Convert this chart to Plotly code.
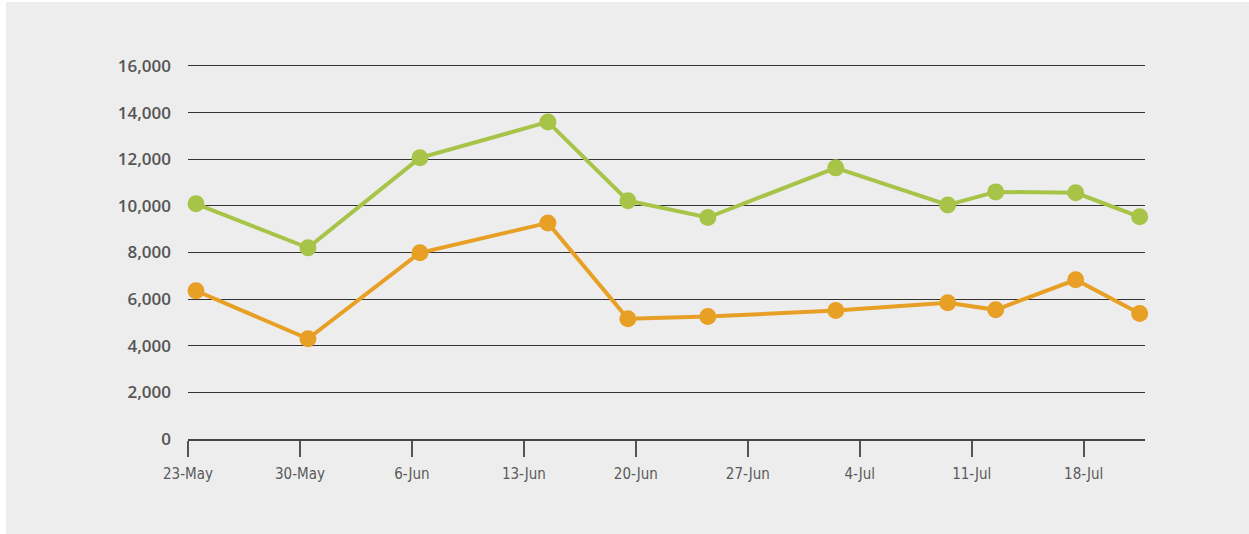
import plotly.graph_objects as go

dates = ["2016-05-23", "2016-05-30", "2016-06-06", "2016-06-14", "2016-06-19",
         "2016-06-24", "2016-07-02", "2016-07-09", "2016-07-12", "2016-07-17",
         "2016-07-21"]
green_values = [10090, 8200, 12060, 13600, 10220, 9500, 11630, 10040, 10600, 10560, 9530]
orange_values = [6360, 4300, 7990, 9270, 5160, 5250, 5510, 5840, 5540, 6830, 5380]

x_tick_start = "2016-05-23"
x_range = ["2016-05-23", "2016-07-21 20:00"]
y_range = [0, 16300]

GREEN = "#a8c448"
ORANGE = "#e7a025"

fig = go.Figure()
for vals, col in [(green_values, GREEN), (orange_values, ORANGE)]:
    fig.add_trace(go.Scatter(
        x=dates, y=vals, mode="lines+markers",
        xperiod=86400000, xperiodalignment="middle",
        line=dict(color=col, width=4),
        marker=dict(color=col, size=17),
        cliponaxis=False, showlegend=False,
    ))

fig.add_shape(type="rect", xref="paper", yref="paper",
              x0=(6 - 188) / 957, x1=1.2, y0=-0.3, y1=(439 - 2) / 380,
              fillcolor="#ededed", line=dict(width=0), layer="below")

fig.update_layout(
    width=1249, height=534, autosize=False,
    margin=dict(l=188, r=104, t=59, b=95),
    paper_bgcolor="white", plot_bgcolor="rgba(0,0,0,0)",
    xaxis=dict(
        type="date", range=x_range, tick0=x_tick_start, dtick=7 * 86400000,
        tickformat="%-d-%b", showgrid=False, zeroline=False,
        showline=True, linecolor="#444", linewidth=1.5,
        ticks="outside", ticklen=16, tickwidth=1.5, tickcolor="#555",
        ticklabelstandoff=4,
        tickfont=dict(family="DejaVu Sans Condensed, Liberation Sans Narrow, sans-serif",
                      size=15, color="#5a5a5a"),
    ),
    yaxis=dict(
        range=y_range, dtick=2000, tickformat=",", showgrid=True,
        gridcolor="#333", gridwidth=1.3, zeroline=False, showline=False,
        ticks="", ticklabelstandoff=16,
        tickfont=dict(family="Open Sans, sans-serif", size=17, color="#555", weight=600),
    ),
)

fig.write_html("out.html")
